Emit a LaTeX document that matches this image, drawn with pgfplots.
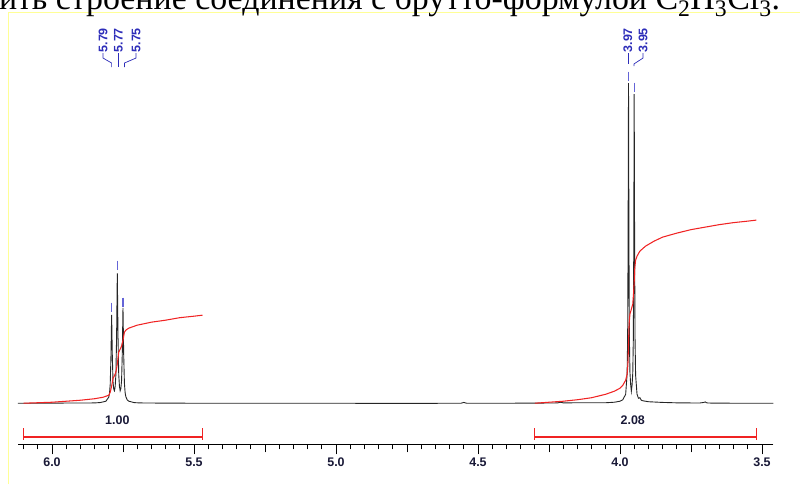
\documentclass[border=0pt]{standalone}
\usepackage{pgfplots}
\pgfplotsset{compat=1.18}
\usepackage{fontspec}
\setmainfont{Liberation Serif}
\newfontfamily\arial{Liberation Sans}
\definecolor{nmrred}{RGB}{240,35,35}
\definecolor{pkblue}{RGB}{45,45,185}
\definecolor{pkmark}{RGB}{100,100,215}
\definecolor{lbl}{RGB}{25,25,55}
\definecolor{framey}{RGB}{255,255,150}
\begin{document}
\begin{tikzpicture}
\begin{axis}[scale only axis,
  width=755bp, height=432bp,
  xmin=3.46, xmax=6.12, x dir=reverse, ymin=0, ymax=432,
  axis x line=bottom, axis y line=none, clip=false,
  x axis line style={-, black, line width=0.9bp},
  tick align=outside,
  xtick={3.5,4.0,4.5,5.0,5.5,6.0},
  minor xtick={3.55,3.6,3.65,3.7,3.8,3.85,3.9,3.95,4.05,4.1,4.15,4.2,4.3,4.35,4.4,4.45,4.55,4.6,4.65,4.7,4.8,4.85,4.9,4.95,5.05,5.1,5.15,5.2,5.3,5.35,5.4,5.45,5.55,5.6,5.65,5.7,5.8,5.85,5.9,5.95,6.05,6.1},
  extra x ticks={3.75,4.25,4.75,5.25,5.75},
  extra x tick labels={},
  extra x tick style={major tick length=8bp},
  major tick length=10bp, minor tick length=5bp,
  tick style={black, line width=0.9bp},
  xticklabel style={font=\arial\bfseries\fontsize{12.5}{12.5}\selectfont, text=lbl, /pgf/number format/.cd, fixed, fixed zerofill, precision=1, assume math mode=true},
]
% frame and cut-off heading of the page
\draw[framey, line width=1.2bp] (axis cs:6.1532,-40) -- (axis cs:6.1532,431.7) -- (axis cs:3.36,431.7);
\node[anchor=base east, font=\fontsize{34}{36}\selectfont, inner sep=0] at (axis cs:3.4352,434.5) {Установить строение соединения с брутто-формулой C\textsubscript{2}H\textsubscript{3}Cl\textsubscript{3}.};
% spectrum
\addplot[black!85, line width=0.9bp] coordinates {
(6.12,41) (6.05,41) (5.95,41.2) (5.90,41.2) (5.85,41.3) (5.83,41.7) (5.81,43.0) (5.80,47.2) (5.7975,50.9) (5.795,59.8) (5.7925,85.9) (5.79,129.3) (5.7875,87) (5.785,62.1) (5.7825,55.0) (5.78,53.5) (5.7775,57.8) (5.775,69.6) (5.7725,107.4) (5.77,170.75) (5.7675,107.4) (5.765,69.8) (5.7625,58) (5.76,53.5) (5.7575,55.7) (5.755,63.5) (5.7525,90.4) (5.75,136.3) (5.7475,89.35) (5.745,61.1) (5.7425,51.6) (5.74,47.55) (5.735,44.3) (5.73,43.05) (5.71,41.6) (5.69,41.3) (5.6,41.1) (5.5,41) (5.3,41) (5.0,41) (4.8,40.8) (4.56,41) (4.55,41.8) (4.54,41) (4.4,41) (4.3,41.1) (4.22,41.3) (4.21,42) (4.20,41.4) (4.10,41.5) (4.05,41.5) (4.02,42) (4.00,43) (3.99,44.5) (3.98,50) (3.975,70) (3.973,107) (3.9715,202) (3.97,361) (3.9685,203) (3.967,109) (3.965,72) (3.9625,60) (3.96,53) (3.9575,59) (3.955,71) (3.953,106) (3.9515,197) (3.95,350) (3.9485,197) (3.947,105) (3.945,69) (3.94,50) (3.935,46) (3.93,46.5) (3.925,44) (3.92,43.5) (3.90,42.5) (3.85,41.8) (3.80,41.4) (3.72,41.2) (3.705,41.8) (3.70,42.3) (3.695,41.5) (3.69,41.2) (3.6,41) (3.46,41)
};
% integral curves
\addplot[nmrred, line width=1.05bp] coordinates {
(6.10,41) (6.05,41.5) (6.00,42) (5.95,43) (5.90,44) (5.85,45.5) (5.82,47) (5.80,49) (5.795,52) (5.79,58) (5.785,66) (5.78,68.5) (5.775,72) (5.77,80) (5.765,92) (5.76,95) (5.755,98) (5.75,104) (5.745,112) (5.74,114) (5.73,116) (5.70,119) (5.65,122) (5.60,124) (5.55,126.5) (5.50,128) (5.47,129)
};
\addplot[nmrred, line width=1.05bp] coordinates {
(4.30,41) (4.25,42) (4.20,43) (4.15,44.5) (4.10,46.5) (4.05,50) (4.02,53) (4.00,56) (3.99,59) (3.98,64) (3.975,70) (3.972,80) (3.97,100) (3.968,120) (3.965,130) (3.96,135) (3.955,140) (3.952,152) (3.95,162) (3.948,176) (3.945,184) (3.94,188) (3.93,193) (3.91,198) (3.88,203) (3.85,207) (3.80,211) (3.75,214.5) (3.70,217) (3.65,219.5) (3.60,221.5) (3.55,223) (3.52,224)
};
% integral bars
\addplot[nmrred, line width=1.6bp] coordinates {(6.10,7) (5.47,7)};
\addplot[nmrred, line width=1.4bp] coordinates {(6.10,4.5) (6.10,16)};
\addplot[nmrred, line width=1.4bp] coordinates {(5.47,4.5) (5.47,16)};
\addplot[nmrred, line width=1.6bp] coordinates {(4.30,7) (3.52,7)};
\addplot[nmrred, line width=1.4bp] coordinates {(4.30,4.5) (4.30,16)};
\addplot[nmrred, line width=1.4bp] coordinates {(3.52,4.5) (3.52,16)};
% peak marks
\addplot[pkmark, only marks, mark=|, mark size=4.5bp, mark options={line width=1.3bp}] coordinates {(5.79,137) (5.77,179) (5.75,142) (3.97,368) (3.95,357)};
% connectors
\draw[pkblue, line width=0.7bp] (axis cs:5.8204,391) -- (axis cs:5.8204,386) -- (axis cs:5.79,381) -- (axis cs:5.79,377);
\draw[pkblue, line width=0.7bp] (axis cs:5.766,391) -- (axis cs:5.766,377);
\draw[pkblue, line width=0.7bp] (axis cs:5.704,391) -- (axis cs:5.704,386) -- (axis cs:5.745,381) -- (axis cs:5.745,377);
\draw[pkblue, line width=0.7bp] (axis cs:3.972,391) -- (axis cs:3.972,380);
\draw[pkblue, line width=0.7bp] (axis cs:3.919,391) -- (axis cs:3.919,386) -- (axis cs:3.951,380) -- (axis cs:3.951,378);
% peak labels
\tikzset{pl/.style={rotate=90, anchor=west, inner sep=0.5bp, text=pkblue, font=\arial\bfseries\fontsize{12.5}{12.5}\selectfont}}
\node[pl] at (axis cs:5.8204,391) {5.79};
\node[pl] at (axis cs:5.766,391) {5.77};
\node[pl] at (axis cs:5.704,391) {5.75};
\node[pl] at (axis cs:3.972,391) {3.97};
\node[pl] at (axis cs:3.919,391) {3.95};
% integral values
\node[text=lbl, font=\arial\bfseries\fontsize{12.5}{12.5}\selectfont] at (axis cs:5.77,24) {1.00};
\node[text=lbl, font=\arial\bfseries\fontsize{12.5}{12.5}\selectfont] at (axis cs:3.955,24) {2.08};
% page corners
\coordinate (pgbl) at (axis cs:6.1831,-40);
\coordinate (pgtr) at (axis cs:3.3662,444);
\end{axis}
\pgfresetboundingbox
\useasboundingbox (pgbl) rectangle (pgtr);
\end{tikzpicture}
\end{document}
